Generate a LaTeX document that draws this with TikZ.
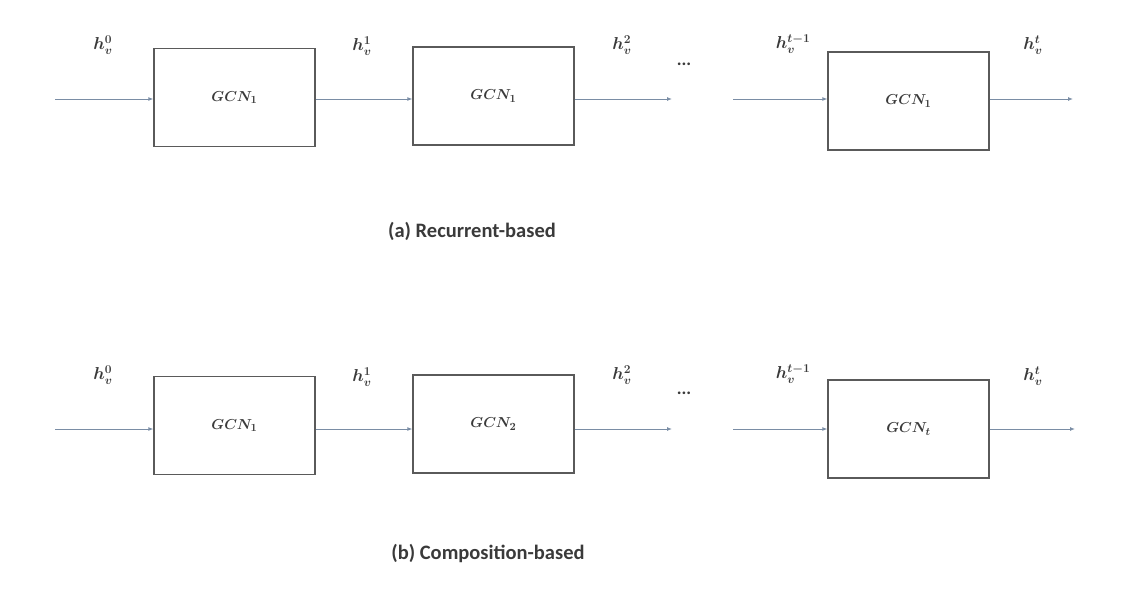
\documentclass[tikz,border=0pt]{standalone}
\usepackage{fontspec}
\setmainfont{Carlito}
\usetikzlibrary{arrows.meta}
\definecolor{boxc}{HTML}{5A5A5A}
\definecolor{arrc}{HTML}{7A8DA5}
\definecolor{txtc}{HTML}{3A3A3A}
\begin{document}
\begin{tikzpicture}[x=1pt,y=-1pt,
  gcn/.style={draw=boxc,line width=1.3pt,minimum width=161pt,minimum height=98pt,inner sep=0pt,font=\fontsize{15.5}{19}\selectfont\boldmath,text=txtc},
  flow/.style={draw=arrc,line width=0.9pt,-{Latex[length=5pt,width=4pt]}},
  lbl/.style={font=\fontsize{18}{21}\selectfont\boldmath,text=txtc},
  captext/.style={font=\fontsize{20.5}{23}\selectfont\bfseries,text=txtc}]
\useasboundingbox (0,0) rectangle (1136,594);
% ---- (a) ----
\node[gcn] (a1) at (234.5,97.5) {$GCN_1$};
\node[gcn] (a2) at (493.5,96) {$GCN_1$};
\node[gcn] (a3) at (908.5,101) {$GCN_1$};
\coordinate (a0s) at (55,99);
\coordinate (a2e) at (672,99);
\coordinate (a3s) at (733,99);
\coordinate (a3e) at (1073,99);
\draw[flow] (a0s) -- (a0s -| a1.west);
\draw[flow] (a1.east |- a0s) -- (a2.west |- a0s);
\draw[flow] (a2.east |- a2e) -- (a2e);
\draw[flow] (a3s) -- (a3.west |- a3s);
\draw[flow] (a3.east |- a3e) -- (a3e);
\node[lbl] (la0) at (103,45) {$h_v^0$};
\node[lbl] (la1) at (362,46) {$h_v^1$};
\node[lbl] (la2) at (622,45) {$h_v^2$};
\node[lbl] (lad) at (684,64) {\textbf{...}};
\node[lbl] (la3) at (793,44) {$h_v^{t-1}$};
\node[lbl] (la4) at (1033,45) {$h_v^t$};
\node[captext] (capa) at (472,231) {(a) Recurrent-based};
% ---- (b) ----
\node[gcn] (b1) at (234.5,425.5) {$GCN_1$};
\node[gcn] (b2) at (493.5,424) {$GCN_2$};
\node[gcn] (b3) at (908.5,429) {$GCN_t$};
\coordinate (b0s) at (55,429);
\coordinate (b2e) at (672,429);
\coordinate (b3s) at (733,429);
\coordinate (b3e) at (1075,429);
\draw[flow] (b0s) -- (b0s -| b1.west);
\draw[flow] (b1.east |- b0s) -- (b2.west |- b0s);
\draw[flow] (b2.east |- b2e) -- (b2e);
\draw[flow] (b3s) -- (b3.west |- b3s);
\draw[flow] (b3.east |- b3e) -- (b3e);
\node[lbl] (lb0) at (103,375) {$h_v^0$};
\node[lbl] (lb1) at (362,377) {$h_v^1$};
\node[lbl] (lb2) at (622,375) {$h_v^2$};
\node[lbl] (lbd) at (684,393) {\textbf{...}};
\node[lbl] (lb3) at (793,374) {$h_v^{t-1}$};
\node[lbl] (lb4) at (1033,376) {$h_v^t$};
\node[captext] (capb) at (488,553) {(b) Composition-based};
\end{tikzpicture}
\end{document}
